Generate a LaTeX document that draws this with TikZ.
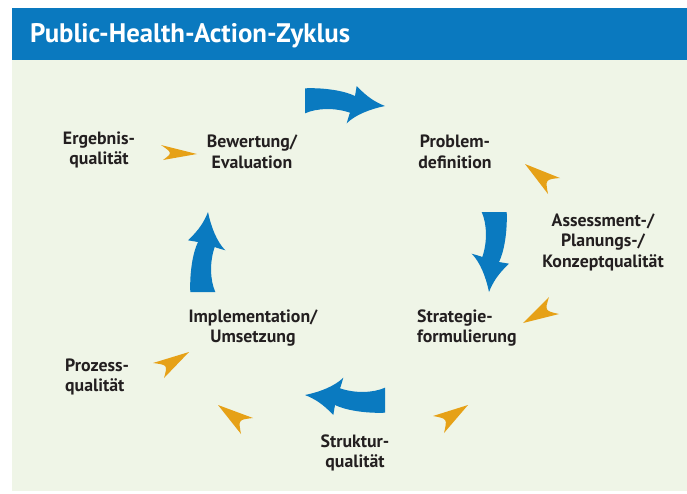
\documentclass[tikz,border=0pt]{standalone}
\usepackage{fontspec}
\setmainfont{PT Sans}
\usetikzlibrary{calc}
\definecolor{hdrblue}{HTML}{0A79BF}
\definecolor{arrblue}{HTML}{0A7AC0}
\definecolor{bggreen}{HTML}{EFF5E7}
\definecolor{orng}{HTML}{E6A117}
\definecolor{txt}{HTML}{231F20}
\newcommand{\ohead}[3]{\fill[orng] (#2) -- (#1) -- (#3) .. controls ($(#2)!0.5!(#3)!0.3!(#1)$) .. (#2) -- cycle;}
\begin{document}
\begin{tikzpicture}[x=1pt,y=-1pt,
  lbl/.style={font=\fontsize{17.8}{20.5}\selectfont\bfseries, text=txt, align=center, inner sep=0pt},
  blarrow/.pic={\fill[arrblue] (-40,-16.7) .. controls (-20,-17.5) and (0,-14) .. (10,-9) -- (11.7,-19)
      .. controls (22,-8) and (30,-3) .. (40,1) .. controls (25,4) and (10,10) .. (1.7,18.3)
      .. controls (3,14) and (4,10) .. (5,7.7) .. controls (-10,2.5) and (-28,3) .. (-40,8.3) -- cycle;}
]
\useasboundingbox (0,0) rectangle (687,493);
\fill[bggreen] (12,60) rectangle (687,491);
\fill[hdrblue] (12,8) rectangle (687,60);
\node[anchor=base west, inner sep=0pt, text=white, font=\fontsize{26.8}{30}\selectfont\bfseries] (title) at (30,42) {Public-Health-Action-Zyklus};

% blue cycle arrows
\pic at (345,105) {blarrow};
\pic[rotate=-90] at (490,252) {blarrow};
\pic[rotate=180] at (345,396) {blarrow};
\pic[rotate=90] at (207,252) {blarrow};

% labels
\node[lbl] (erg) at (99,150) {Ergebnis-\\qualität};
\node[lbl] (bew) at (252,152) {Bewertung/\\Evaluation};
\node[lbl] (prob) at (455,152) {Problem-\\definition};
\node[lbl] (ass) at (603,242) {Assessment-/\\Planungs-/\\Konzeptqualität};
\node[lbl, align=left, anchor=west] (strat) at (417,328) {Strategie-\\formulierung};
\node[lbl] (impl) at (253,328) {Implementation/\\Umsetzung};
\node[lbl, align=left, anchor=west] (proz) at (65,377) {Prozess-\\qualität};
\node[lbl] (strk) at (355,453) {Struktur-\\qualität};

% orange arrowheads
\ohead{197,154}{161,145}{163,160}
\ohead{525,164}{560,178}{548,194}
\ohead{523,323}{549,297}{559,314}
\ohead{468,405}{433,416}{444,433}
\ohead{218,405}{253,418}{241,434}
\ohead{189,352}{153,363}{164,378}
\end{tikzpicture}
\end{document}
